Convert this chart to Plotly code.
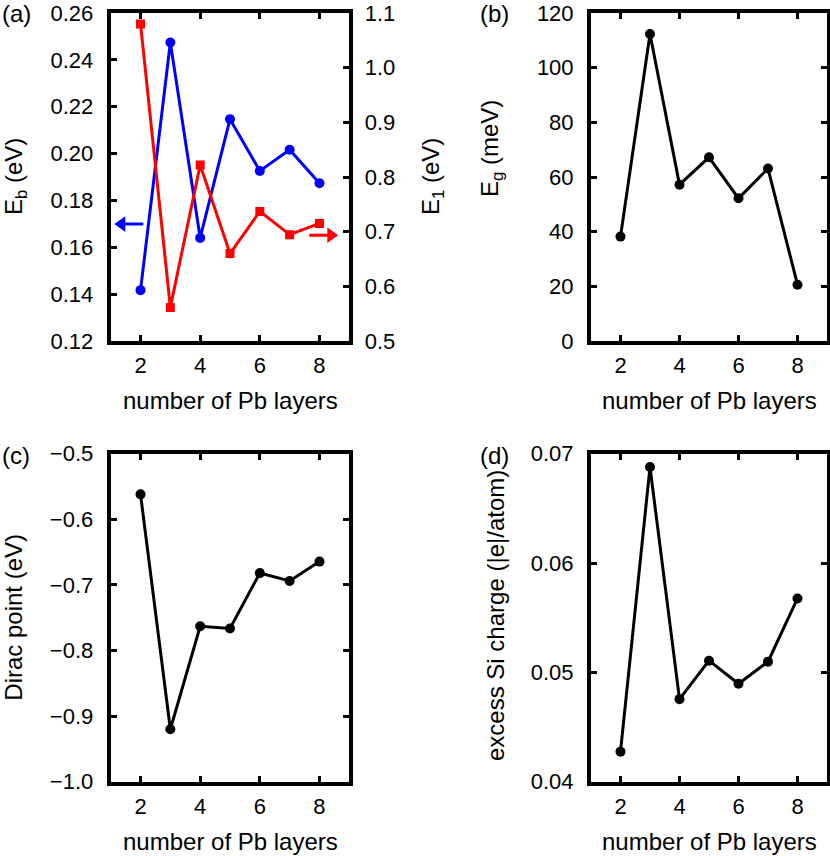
import plotly.graph_objects as go

# ---------------- data ----------------
layers = [2, 3, 4, 5, 6, 7, 8]
e_b = [0.1417, 0.2474, 0.1640, 0.2147, 0.1926, 0.2016, 0.1873]      # eV, left axis (a)
e_1 = [1.080, 0.5615, 0.822, 0.660, 0.737, 0.6945, 0.715]           # eV, right axis (a)
e_g = [38.2, 112.3, 57.2, 67.2, 52.2, 63.1, 20.6]                   # meV (b)
dirac = [-0.562, -0.920, -0.763, -0.7665, -0.682, -0.694, -0.6645]   # eV (c)
charge = [0.04275, 0.06878, 0.04755, 0.05107, 0.04896, 0.05098, 0.05676]  # |e|/atom (d)
x_ticks = [2, 4, 6, 8]

# arrow markers in panel (a): tip position (x, axis value), pointing direction
eb_arrow = dict(x=1.121, y=0.1699)   # left-pointing, on E_b axis
e1_arrow = dict(x=8.631, y=0.6934)   # right-pointing, on E_1 axis

W, H = 830, 856
FAM = "Liberation Sans, Arial, sans-serif"
TICKFONT = dict(family=FAM, size=22, color="black")
FONT = dict(family=FAM, size=24, color="black")

def px(x):
    return x / W

def py(y):
    return 1 - y / H

dom_x_left = [px(110.7), px(349.3)]
dom_x_right = [px(591), px(827)]
dom_y_top = [py(341), py(13)]
dom_y_bot = [py(781.7), py(453.7)]

def xax(domain, anchor):
    return dict(domain=domain, anchor=anchor, range=[1, 9], tickvals=x_ticks,
                ticks="inside", ticklen=6, tickwidth=3, tickcolor="black",
                showline=True, linewidth=4, linecolor="black", mirror="ticks",
                showgrid=False, zeroline=False, tickfont=TICKFONT, ticklabelstandoff=2,
                automargin=False)

def yax(domain, anchor, rng, dtick, fmt, mirror="ticks", side="left", standoff=9):
    return dict(domain=domain, anchor=anchor, range=rng, dtick=dtick, tick0=rng[0],
                tickformat=fmt, ticks="inside", ticklen=6, tickwidth=3, tickcolor="black",
                showline=True, linewidth=4, linecolor="black", mirror=mirror, side=side,
                showgrid=False, zeroline=False, tickfont=TICKFONT, ticklabelstandoff=standoff,
                automargin=False)

fig = go.Figure()

line_black = dict(color="black", width=3)
mk_black = dict(color="black", size=10, symbol="circle")

fig.add_trace(go.Scatter(x=layers, y=e_b, mode="lines+markers", xaxis="x", yaxis="y",
                         line=dict(color="#0000ff", width=3),
                         marker=dict(color="#0000ff", size=10, symbol="circle")))
fig.add_trace(go.Scatter(x=layers, y=e_1, mode="lines+markers", xaxis="x", yaxis="y5",
                         line=dict(color="#ff0000", width=3),
                         marker=dict(color="#ff0000", size=9, symbol="square")))
fig.add_trace(go.Scatter(x=layers, y=e_g, mode="lines+markers", xaxis="x2", yaxis="y2",
                         line=line_black, marker=mk_black))
fig.add_trace(go.Scatter(x=layers, y=dirac, mode="lines+markers", xaxis="x3", yaxis="y3",
                         line=line_black, marker=mk_black))
fig.add_trace(go.Scatter(x=layers, y=charge, mode="lines+markers", xaxis="x4", yaxis="y4",
                         line=line_black, marker=mk_black))

ann = []
def label(text, x, y, xanchor="center", angle=0):
    ann.append(dict(text=text, x=x, y=y, xref="paper", yref="paper", xanchor=xanchor,
                    yanchor="middle", showarrow=False, font=FONT, textangle=angle))

label("(a)", 0, py(14), "left")
label("(b)", px(478), py(14), "left")
label("(c)", 0, py(455), "left")
label("(d)", px(478), py(455), "left")
label("E<sub>b</sub> (eV)", px(16), py(177), angle=-90)
label("E<sub>1</sub> (eV)", px(433), py(177), angle=-90)
label("E<sub>g</sub> (meV)", px(491), py(149), angle=-90)
label("Dirac point (eV)", px(14), py(617.7), angle=-90)
label("excess Si charge (|e|/atom)", px(495), py(616), angle=-90)
for xc in [230, 709]:
    label("number of Pb layers", px(xc), py(400))
    label("number of Pb layers", px(xc), py(841.4))

# axis-direction arrows (line + filled head), sized in pixels around the tip
def arrow(tip, yref, color, sign):
    common = dict(xref="x", yref=yref, xsizemode="pixel", ysizemode="pixel",
                  xanchor=tip["x"], yanchor=tip["y"], layer="above")
    line = dict(type="line", x0=sign * 9, x1=sign * 29, y0=0, y1=0,
                line=dict(color=color, width=3), **common)
    head = dict(type="path", path=f"M0,0 L{sign*11},7.8 L{sign*11},-7.8 Z",
                fillcolor=color, line=dict(width=0), **common)
    return [line, head]

shapes = arrow(eb_arrow, "y", "#0000ff", 1) + arrow(e1_arrow, "y5", "#ff0000", -1)

fig.update_layout(
    template="none",
    width=W, height=H, margin=dict(l=0, r=0, t=0, b=0, pad=0),
    paper_bgcolor="white", plot_bgcolor="white", showlegend=False,
    font=FONT,
    xaxis=xax(dom_x_left, "y"),
    yaxis=yax(dom_y_top, "x", [0.12, 0.26], 0.02, ".2f", mirror=False),
    yaxis5=yax(dom_y_top, "x", [0.5, 1.1], 0.1, ".1f", mirror=False, side="right",
               standoff=7) | dict(overlaying="y"),
    xaxis2=xax(dom_x_right, "y2"),
    yaxis2=yax(dom_y_top, "x2", [0, 120], 20, "d"),
    xaxis3=xax(dom_x_left, "y3"),
    yaxis3=yax(dom_y_bot, "x3", [-1.0, -0.5], 0.1, ".1f"),
    xaxis4=xax(dom_x_right, "y4"),
    yaxis4=yax(dom_y_bot, "x4", [0.04, 0.07], 0.01, ".2f"),
    annotations=ann,
    shapes=shapes,
)

fig.write_html("out.html", config={"displayModeBar": False},
               post_script="document.body.style.margin='0px';document.body.style.overflow='hidden';")
